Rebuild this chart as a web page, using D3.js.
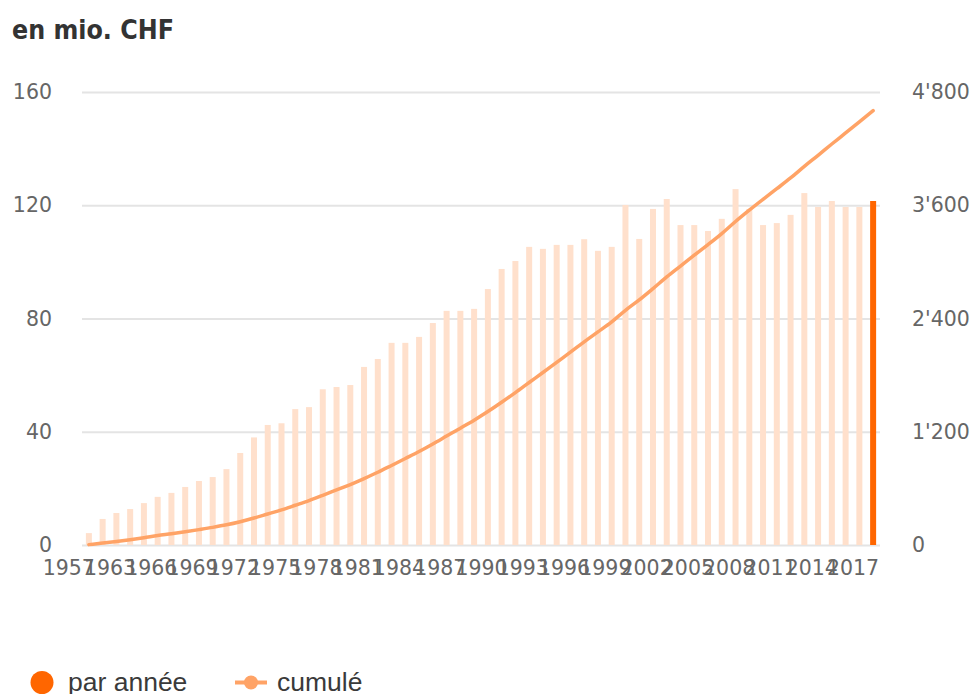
<!DOCTYPE html>
<html>
<head>
<meta charset="utf-8">
<script src="https://cdn.jsdelivr.net/npm/d3@7"></script>
<style>
  body { margin: 0; background: #fff; }
</style>
</head>
<body>
<div id="my_dataviz"></div>
<script>
// yearly amounts, in mio. CHF (left axis)
var years = d3.range(1961, 2019);
var parAnnee = [4.2, 9.2, 11.3, 12.7, 14.8, 17, 18.4, 20.5, 22.6, 24,
    26.8, 32.5, 38, 42.4, 43, 48, 48.7, 55, 55.8, 56.5,
    62.9, 65.7, 71.4, 71.4, 73.5, 78.4, 82.7, 82.7, 83.4, 90.4,
    97.5, 100.3, 105.3, 104.6, 106, 106, 108, 103.9, 105.3, 120.1,
    108.1, 118.7, 122.2, 113, 113, 110.9, 115.2, 125.7, 118.7, 113,
    113.7, 116.6, 124.3, 119.4, 121.5, 119.4, 119.4, 121.5];

// cumulated amounts (right axis)
var cumule = [4, 20, 37, 56, 77, 100, 119, 140, 163, 187,
    214, 247, 286, 329, 372, 421, 471, 526, 583, 640,
    704, 771, 843, 916, 990, 1070, 1154, 1238, 1323, 1414,
    1513, 1615, 1722, 1828, 1936, 2043, 2153, 2258, 2365, 2487,
    2597, 2717, 2841, 2956, 3071, 3183, 3300, 3428, 3548, 3663,
    3775, 3889, 4012, 4129, 4249, 4366, 4484, 4603];

// x tick positions (year boundaries) and the labels shown there
var tickYears = [1960, 1963, 1966, 1969, 1972, 1975, 1978, 1981, 1984, 1987,
    1990, 1993, 1996, 1999, 2002, 2005, 2008, 2011, 2014, 2017];
var tickLabels = ["1957", "1963", "1966", "1969", "1972", "1975", "1978", "1981", "1984", "1987",
    "1990", "1993", "1996", "1999", "2002", "2005", "2008", "2011", "2014", "2017"];
var leftTicks = [0, 40, 80, 120, 160];
var rightTicks = [0, 1200, 2400, 3600, 4800];

var legendItems = ["par année", "cumulé"];

function drawChart() {

    var W = 972, H = 694;
    var margin = { left: 82, right: 880, top: 92, bottom: 545 };

    var svg = d3.select("#my_dataviz")
        .append("svg")
        .attr("width", W)
        .attr("height", H);

    var axisFont = "'DejaVu Sans', sans-serif";

    // scales
    var x = d3.scaleLinear()
        .domain([1961, 2019])
        .range([margin.left, margin.right]);
    var yLeft = d3.scaleLinear().domain([0, 160]).range([margin.bottom, margin.top]);
    var yRight = d3.scaleLinear().domain([0, 4800]).range([margin.bottom, margin.top]);

    var fmt = d3.formatLocale({ decimal: ".", thousands: "'", grouping: [3], currency: ["", ""] }).format(",");

    // title
    svg.append("text")
        .attr("x", 12)
        .attr("y", 39)
        .style("font-family", "'DejaVu Sans Condensed', 'DejaVu Sans', sans-serif")
        .style("font-stretch", "condensed")
        .style("font-weight", "bold")
        .style("font-size", "26.5px")
        .style("fill", "#333")
        .text("en mio. CHF");

    // left axis + gridlines (behind the bars)
    var gLeft = svg.append("g")
        .attr("transform", "translate(" + margin.left + ",0)")
        .call(d3.axisLeft(yLeft).tickValues(leftTicks)
            .tickSize(-(margin.right - margin.left)).tickPadding(30));
    gLeft.select(".domain").remove();
    gLeft.selectAll(".tick line")
        .attr("stroke", "#e4e4e4")
        .attr("stroke-width", 2);
    gLeft.selectAll(".tick text")
        .style("font-family", axisFont)
        .style("font-size", "20.5px")
        .style("fill", "#666");

    // right axis
    var gRight = svg.append("g")
        .attr("transform", "translate(" + margin.right + ",0)")
        .call(d3.axisRight(yRight).tickValues(rightTicks).tickSize(0).tickPadding(32).tickFormat(fmt));
    gRight.select(".domain").remove();
    gRight.selectAll(".tick text")
        .style("font-family", axisFont)
        .style("font-size", "20.5px")
        .style("fill", "#666");

    // x axis
    var gX = svg.append("g")
        .attr("transform", "translate(0," + margin.bottom + ")")
        .call(d3.axisBottom(x).tickValues(tickYears).tickSize(0).tickPadding(15)
            .tickFormat(function (d, i) { return tickLabels[i]; }));
    gX.select(".domain").remove();
    gX.selectAll(".tick text")
        .style("font-family", axisFont)
        .style("font-size", "20.5px")
        .style("fill", "#666");

    // bars
    var barW = 6;
    svg.selectAll("rect.bar")
        .data(parAnnee)
        .enter().append("rect")
        .attr("class", "bar")
        .attr("x", function (d, i) { return x(years[i] + 0.5) - barW / 2; })
        .attr("width", barW)
        .attr("y", function (d) { return yLeft(d); })
        .attr("height", function (d) { return margin.bottom - yLeft(d); })
        .style("fill", function (d, i) { return i == parAnnee.length - 1 ? "#ff6600" : "#ffe0cc"; });

    // cumulated line
    var line = d3.line()
        .x(function (d, i) { return x(years[i] + 0.5); })
        .y(function (d) { return yRight(d); })
        .curve(d3.curveMonotoneX);

    svg.append("path")
        .datum(cumule)
        .attr("d", line)
        .attr("fill", "none")
        .attr("stroke", "#ffa366")
        .attr("stroke-width", 3.5)
        .attr("stroke-linecap", "round");

    // legend
    var legendFont = "'Liberation Sans', Arial, sans-serif";
    svg.append("circle")
        .attr("cx", 42).attr("cy", 682.5).attr("r", 11.5)
        .style("fill", "#ff6600");
    svg.append("text")
        .attr("x", 68).attr("y", 691)
        .style("font-family", legendFont)
        .style("font-size", "26.5px")
        .style("fill", "#3a3a3a")
        .text(legendItems[0]);

    svg.append("line")
        .attr("x1", 235).attr("x2", 267)
        .attr("y1", 682.5).attr("y2", 682.5)
        .attr("stroke", "#ffa366")
        .attr("stroke-width", 4);
    svg.append("circle")
        .attr("cx", 251).attr("cy", 682.5).attr("r", 7)
        .style("fill", "#ffa366");
    svg.append("text")
        .attr("x", 277).attr("y", 691)
        .style("font-family", legendFont)
        .style("font-size", "26.5px")
        .style("fill", "#3a3a3a")
        .text(legendItems[1]);
}

drawChart();
</script>
</body>
</html>
